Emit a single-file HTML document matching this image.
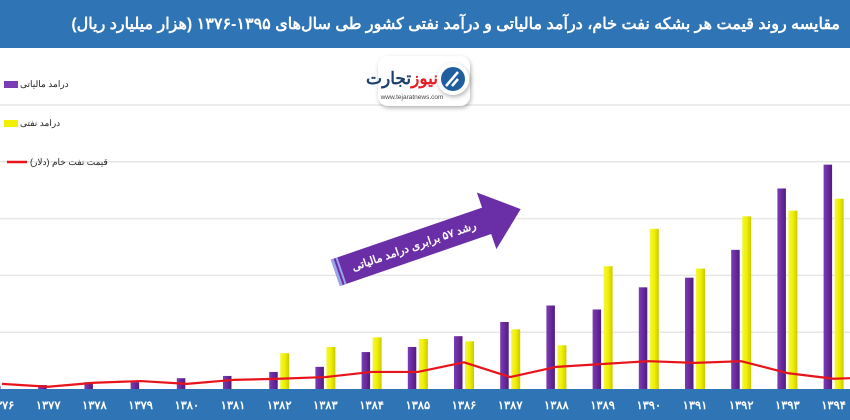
<!DOCTYPE html>
<html><head><meta charset="utf-8">
<style>
html,body{margin:0;padding:0;background:#fff;}
body{width:850px;height:420px;overflow:hidden;position:relative;font-family:"Liberation Sans","Noto Sans CJK SC",sans-serif;}
#title{position:absolute;left:0;top:0;width:850px;height:48px;background:#2f74b5;color:#fff;font-size:16px;font-weight:bold;direction:rtl;text-align:right;box-sizing:border-box;padding-right:10px;line-height:50px;white-space:nowrap;}
</style></head><body>
<div id="title">مقایسه روند قیمت هر بشکه نفت خام، درآمد مالیاتی و درآمد نفتی کشور طی سال‌های ۱۳۹۵-۱۳۷۶ (هزار میلیارد ریال)</div>
<svg id="chart" width="850" height="420" style="position:absolute;left:0;top:0"></svg>
<script>
const categories=["۱۳۷۶","۱۳۷۷","۱۳۷۸","۱۳۷۹","۱۳۸۰","۱۳۸۱","۱۳۸۲","۱۳۸۳","۱۳۸۴","۱۳۸۵","۱۳۸۶","۱۳۸۷","۱۳۸۸","۱۳۸۹","۱۳۹۰","۱۳۹۱","۱۳۹۲","۱۳۹۳","۱۳۹۴","۱۳۹۵"];
const taxRevenue=[5,7,12,12,19,23,30,39,65,74,93,118,147,140,179,196,245,353,395,420];
const oilRevenue=[0,0,0,0,0,0,63,74,91,88,84,105,77,216,282,212,304,314,335,340];
const oilPrice=[9,4,11,14,9,16,18,21,30,30,47,21,39,44,49,46,49,28,18,21];
const gridValues=[100,200,300,400,500];
const NS="http://www.w3.org/2000/svg";
const svg=document.getElementById('chart');
const x0=2,step=46.2,baseY=389,pxPer=0.568;
function xc(i){return x0+step*i;}
function y(v){return baseY-v*pxPer;}
function mk(tag,attrs,parent){const e=document.createElementNS(NS,tag);for(const k in attrs)e.setAttribute(k,attrs[k]);(parent||svg).appendChild(e);return e;}
const defs=mk('defs',{});
const gp=mk('linearGradient',{id:'gp',x1:0,x2:1,y1:0,y2:0},defs);
mk('stop',{offset:'0','stop-color':'#7a3db3'},gp);mk('stop',{offset:'0.5','stop-color':'#6a2a9e'},gp);mk('stop',{offset:'1','stop-color':'#4f1c7e'},gp);
const gy=mk('linearGradient',{id:'gy',x1:0,x2:1,y1:0,y2:0},defs);
mk('stop',{offset:'0','stop-color':'#f5f540'},gy);mk('stop',{offset:'0.5','stop-color':'#f0f000'},gy);mk('stop',{offset:'1','stop-color':'#c9c900'},gy);
const sh=mk('filter',{id:'sh',x:'-20%',y:'-20%',width:'140%',height:'140%'},defs);
mk('feDropShadow',{dx:1,dy:2,stdDeviation:2,'flood-color':'#000','flood-opacity':0.3},sh);
gridValues.forEach(v=>{const l=mk('line',{x1:0,x2:850,y1:y(v),y2:y(v),stroke:'#e6e6e6','stroke-width':1.5});

});
categories.forEach((c,i)=>{
 const cx=xc(i);
 if(taxRevenue[i]>0){const b=mk('rect',{x:cx-10,y:y(taxRevenue[i]),width:8.5,height:taxRevenue[i]*pxPer,fill:'url(#gp)'});
 
 }
 if(oilRevenue[i]>0){const b=mk('rect',{x:cx+1,y:y(oilRevenue[i]),width:9,height:oilRevenue[i]*pxPer,fill:'url(#gy)'});
 
 }
});
const pts=oilPrice.map((v,i)=>xc(i)+','+y(v)).join(' ');
const pl=mk('polyline',{points:pts,fill:'none',stroke:'#e8141c','stroke-width':2.2,'stroke-linejoin':'round'});


const band=mk('rect',{x:0,y:baseY,width:850,height:31,fill:'#2f74b5'});


categories.forEach((c,i)=>{const t=mk('text',{x:xc(i),y:409,'text-anchor':'middle',fill:'#fff','font-size':11.5,'font-weight':'bold','font-family':'"Liberation Sans","Noto Sans CJK SC",sans-serif'});t.textContent=c;
 
 });
function legend(yy,kind,label,name){
 const g=mk('g',{});
 
 
 if(kind==='line')mk('line',{x1:7,x2:27,y1:yy,y2:yy,stroke:'#e8141c','stroke-width':2.5},g);
 else mk('rect',{x:4,y:yy-3,width:14,height:7,fill:kind},g);
 const t=mk('text',{x:kind==='line'?30:20,y:yy+3,'font-size':9,fill:'#222','font-family':'"Liberation Sans","Noto Sans CJK SC",sans-serif'},g);t.textContent=label;
}
legend(84,'#7a3db3','درامد مالیاتی','legend-tax-revenue');
legend(123,'#f0f000','درامد نفتی','legend-oil-revenue');
legend(162,'line','قیمت نفت خام (دلار)','legend-oil-price');
const ag=mk('g',{transform:'translate(428,241) rotate(-19)'});


mk('polygon',{points:'-98,-14 62,-14 62,-30 98,0 62,30 62,14 -98,14',fill:'#6a2ea6'},ag);
mk('rect',{x:-98,y:-14,width:3,height:28,fill:'#9aa6e8'},ag);
mk('rect',{x:-93,y:-14,width:2,height:28,fill:'#9aa6e8'},ag);
const at=mk('text',{x:-15,y:4,'text-anchor':'middle',fill:'#fff','font-size':11,'font-weight':'bold','font-family':'"Liberation Sans","Noto Sans CJK SC",sans-serif',direction:'rtl'},ag);
at.textContent='رشد ۵۷ برابری درامد مالیاتی';
const lg=mk('g',{});


mk('rect',{x:378,y:56,width:92,height:50,rx:10,fill:'#fff',filter:'url(#sh)'},lg);
mk('circle',{cx:453,cy:79,r:16,fill:'#fff',filter:'url(#sh)'},lg);
mk('circle',{cx:453,cy:79,r:12,fill:'#1f5f9e'},lg);
mk('path',{d:'M446 86 L458 72 M452 86 L458 79',stroke:'#fff','stroke-width':2.5,fill:'none'},lg);
const l1=mk('text',{x:438,y:84,'text-anchor':'end','font-size':17,'font-weight':'bold',fill:'#1f3f6e','font-family':'"Liberation Sans","Noto Sans CJK SC",sans-serif'},lg);
const s1=mk('tspan',{fill:'#e31d24'},l1);s1.textContent='نیوز';
const s2=mk('tspan',{fill:'#1f3f6e'},l1);s2.textContent='تجارت';
const l2=mk('text',{x:412,y:99,'text-anchor':'middle','font-size':6.5,fill:'#444','font-family':'"Liberation Sans",sans-serif'},lg);l2.textContent='www.tejaratnews.com';
</script>
</body></html>
